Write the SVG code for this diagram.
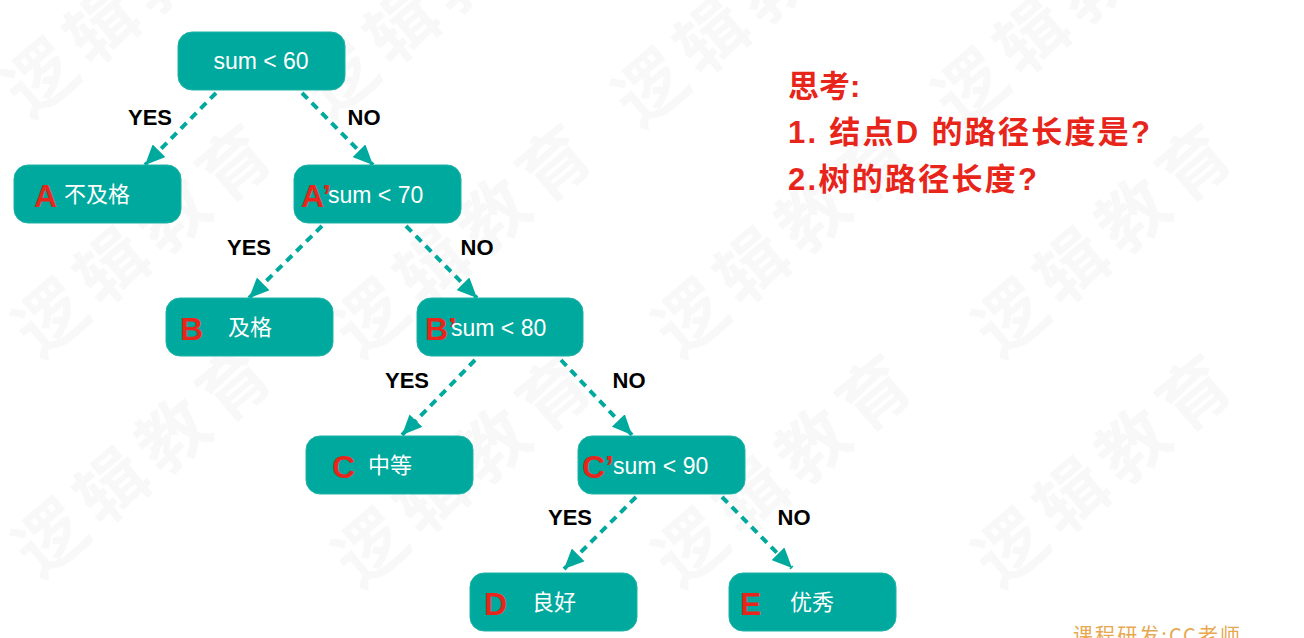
<svg xmlns="http://www.w3.org/2000/svg" width="1304" height="638" viewBox="0 0 1304 638">
<defs>
<style>
.node{fill:#00a99d;stroke:#1fb3a8;stroke-width:1}
.lab{font-family:"Liberation Sans","Noto Sans CJK SC",sans-serif;font-weight:bold;font-size:32px;fill:#e8251b}
.sum{font-family:"Liberation Sans","Noto Sans CJK SC",sans-serif;font-size:23px;fill:#ffffff}
.cjk{font-family:"Noto Sans CJK SC","Liberation Sans",sans-serif;font-size:22px;fill:#ffffff}
.edge{fill:none;stroke:#00a99d;stroke-width:4;stroke-dasharray:8 6}
.yn{font-family:"Liberation Sans",sans-serif;font-weight:bold;font-size:22px;fill:#000000;text-anchor:middle}
.q{font-family:"Liberation Sans","Noto Sans CJK SC",sans-serif;font-weight:bold;font-size:31px;fill:#e8251b}
.wm{font-family:"Noto Sans CJK SC",sans-serif;font-weight:bold;font-size:70px;fill:#000000;fill-opacity:0.028;letter-spacing:10px}
</style>
<marker id="ah" markerUnits="userSpaceOnUse" markerWidth="20" markerHeight="18" refX="20" refY="9" orient="auto">
<path d="M0,0 L20,9 L0,18 z" fill="#00a99d"/>
</marker>
</defs>
<rect width="1304" height="638" fill="#ffffff"/>
<g id="watermark">
<text class="wm" transform="translate(30,120) rotate(-40)">逻辑教育</text>
<text class="wm" transform="translate(330,120) rotate(-40)">逻辑教育</text>
<text class="wm" transform="translate(640,130) rotate(-40)">逻辑教育</text>
<text class="wm" transform="translate(960,130) rotate(-40)">逻辑教育</text>
<text class="wm" transform="translate(40,360) rotate(-40)">逻辑教育</text>
<text class="wm" transform="translate(360,360) rotate(-40)">逻辑教育</text>
<text class="wm" transform="translate(680,360) rotate(-40)">逻辑教育</text>
<text class="wm" transform="translate(1000,360) rotate(-40)">逻辑教育</text>
<text class="wm" transform="translate(40,580) rotate(-40)">逻辑教育</text>
<text class="wm" transform="translate(360,590) rotate(-40)">逻辑教育</text>
<text class="wm" transform="translate(680,590) rotate(-40)">逻辑教育</text>
<text class="wm" transform="translate(1000,590) rotate(-40)">逻辑教育</text>
</g>
<g id="connectors">
<line class="edge" x1="216" y1="93" x2="145" y2="165" marker-end="url(#ah)"/>
<line class="edge" x1="302" y1="93" x2="373" y2="165" marker-end="url(#ah)"/>
<line class="edge" x1="322" y1="226" x2="249" y2="298" marker-end="url(#ah)"/>
<line class="edge" x1="406" y1="226" x2="477" y2="298" marker-end="url(#ah)"/>
<line class="edge" x1="475" y1="360" x2="402" y2="435" marker-end="url(#ah)"/>
<line class="edge" x1="561" y1="360" x2="632" y2="435" marker-end="url(#ah)"/>
<line class="edge" x1="636" y1="497" x2="564" y2="569" marker-end="url(#ah)"/>
<line class="edge" x1="722" y1="497" x2="792" y2="568" marker-end="url(#ah)"/>
<text class="yn" x="150" y="125">YES</text>
<text class="yn" x="364" y="125">NO</text>
<text class="yn" x="249" y="255">YES</text>
<text class="yn" x="477" y="255">NO</text>
<text class="yn" x="407" y="388">YES</text>
<text class="yn" x="629" y="388">NO</text>
<text class="yn" x="570" y="525">YES</text>
<text class="yn" x="794" y="525">NO</text>
</g>
<g id="root">
<rect class="node" x="178" y="32" width="167" height="58" rx="14"/>
<text class="sum" x="261" y="69" text-anchor="middle">sum &lt; 60</text>
</g>
<g id="nodeA">
<rect class="node" x="14" y="165" width="167" height="58" rx="14"/>
<text class="lab" x="34" y="207">A</text>
<text class="cjk" x="64" y="202">不及格</text>
</g>
<g id="nodeA2">
<rect class="node" x="294" y="165" width="167" height="58" rx="14"/>
<text class="lab" x="301" y="207">A’</text>
<text class="sum" x="328" y="203">sum &lt; 70</text>
</g>
<g id="nodeB">
<rect class="node" x="166" y="298" width="167" height="58" rx="14"/>
<text class="lab" x="180" y="340">B</text>
<text class="cjk" x="228" y="335">及格</text>
</g>
<g id="nodeB2">
<rect class="node" x="417" y="298" width="166" height="58" rx="14"/>
<text class="lab" x="425" y="340">B’</text>
<text class="sum" x="451" y="336">sum &lt; 80</text>
</g>
<g id="nodeC">
<rect class="node" x="306" y="436" width="167" height="58" rx="14"/>
<text class="lab" x="332" y="478">C</text>
<text class="cjk" x="368" y="473">中等</text>
</g>
<g id="nodeC2">
<rect class="node" x="578" y="436" width="167" height="58" rx="14"/>
<text class="lab" x="582" y="478">C’</text>
<text class="sum" x="613" y="474">sum &lt; 90</text>
</g>
<g id="nodeD">
<rect class="node" x="470" y="573" width="167" height="58" rx="14"/>
<text class="lab" x="484" y="615">D</text>
<text class="cjk" x="532" y="610">良好</text>
</g>
<g id="nodeE">
<rect class="node" x="729" y="573" width="167" height="58" rx="14"/>
<text class="lab" x="740" y="615">E</text>
<text class="cjk" x="790" y="610">优秀</text>
</g>
<g id="question">
<text class="q" x="788" y="97">思考:</text>
<text class="q" x="788" y="143" textLength="362" lengthAdjust="spacing">1. 结点D 的路径长度是?</text>
<text class="q" x="788" y="190" textLength="249" lengthAdjust="spacing">2.树的路径长度?</text>
</g>
<g id="credit">
<text x="1073" y="643" font-family="Noto Sans CJK SC, sans-serif" font-size="20" fill="#e8a850" textLength="167" lengthAdjust="spacing">课程研发:CC老师</text>
</g>
</svg>
